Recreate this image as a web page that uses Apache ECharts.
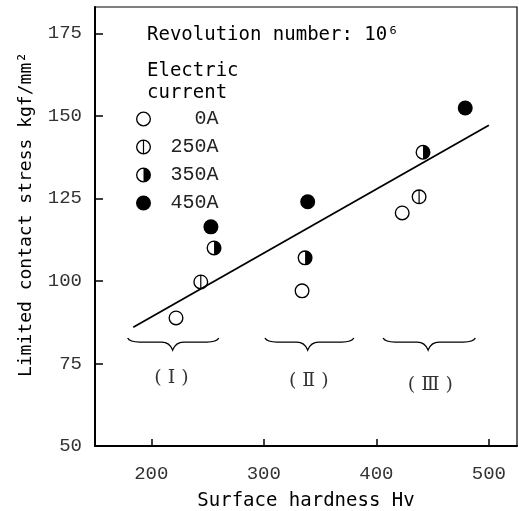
<!DOCTYPE html>
<html>
<head>
<meta charset="utf-8">
<script src="https://cdn.jsdelivr.net/npm/echarts@6/dist/echarts.min.js"></script>
<style>
  html, body { margin: 0; background: #fff; }
  #chart { width: 519px; height: 511px; }
</style>
</head>
<body>
<div id="chart"></div>
<script>
// electric current groups
var currents = ['0A', '250A', '350A', '450A'];

// surface hardness (Hv) / limited contact stress (kgf/mm2) per current
var hard0 = [222, 334, 423];
var stress0 = [88.8, 97, 120.6];
var hard250 = [244, 438];
var stress250 = [99.7, 125.5];
var hard350 = [255.8, 336.7, 441.5];
var stress350 = [110, 107, 139];
var hard450 = [253, 339, 479];
var stress450 = [116.4, 124, 152.4];

// fitted line end points
var fitHard = [184, 500];
var fitStress = [86, 147.2];

// hardness groups (braces + labels)
var groupNames = ['( Ⅰ )', '( Ⅱ )', '( Ⅲ )'];
var braceFrom = [179, 301, 406];
var braceTip = [219, 339, 446];
var braceTo = [260, 380, 488];
var braceLevel = [81.5, 81.5, 81.5];
var groupLabelX = [218, 340, 448];
var groupLabelY = [70.5, 69.8, 68.6];

var xTicks = [200, 300, 400, 500];
var yTicks = [50, 75, 100, 125, 150, 175];

var ring = 'M10,0A10,10,0,1,1,10,20A10,10,0,1,1,10,0ZM10,1.8A8.2,8.2,0,1,0,10,18.2A8.2,8.2,0,1,0,10,1.8Z';
var symbols = [
  'path://' + ring,
  'path://' + ring + 'M9.2,1L10.8,1L10.8,19L9.2,19Z',
  'path://' + ring + 'M10,0A10,10,0,0,1,10,20Z',
  'circle'
];
var hardList = [hard0, hard250, hard350, hard450];
var stressList = [stress0, stress250, stress350, stress450];

function pairs(xs, ys) {
  return xs.map(function (x, i) { return [x, ys[i]]; });
}

var chart = echarts.init(document.getElementById('chart'));

var series = currents.map(function (name, k) {
  return {
    name: name,
    type: 'scatter',
    symbol: symbols[k],
    symbolSize: 15,
    itemStyle: { color: '#000', opacity: 1 },
    data: pairs(hardList[k], stressList[k]),
    z: 5
  };
});

series.push({
  type: 'line',
  data: pairs(fitHard, fitStress),
  symbol: 'none',
  silent: true,
  lineStyle: { color: '#000', width: 1.8 }
});

// curly braces under each hardness group
series.push({
  type: 'custom',
  silent: true,
  data: braceFrom.map(function (f, i) { return [f, braceTip[i], braceTo[i], braceLevel[i]]; }),
  renderItem: function (params, api) {
    var a = api.coord([api.value(0), api.value(3)]);
    var t = api.coord([api.value(1), api.value(3)]);
    var b = api.coord([api.value(2), api.value(3)]);
    var y = a[1];
    var d = 'M' + a[0] + ',' + (y - 4) +
      'Q' + (a[0] + 2) + ',' + y + ',' + (a[0] + 12) + ',' + y +
      'L' + (t[0] - 11) + ',' + y +
      'Q' + (t[0] - 3) + ',' + y + ',' + t[0] + ',' + (y + 8) +
      'Q' + (t[0] + 3) + ',' + y + ',' + (t[0] + 11) + ',' + y +
      'L' + (b[0] - 12) + ',' + y +
      'Q' + (b[0] - 2) + ',' + y + ',' + b[0] + ',' + (y - 4);
    return {
      type: 'path',
      shape: { pathData: d },
      style: { fill: null, stroke: '#000', lineWidth: 1.3 }
    };
  }
});

series.push({
  type: 'scatter',
  silent: true,
  symbolSize: 0,
  data: groupLabelX.map(function (x, i) { return [x, groupLabelY[i], groupNames[i]]; }),
  label: {
    show: true,
    position: 'inside',
    formatter: function (p) { return p.value[2]; },
    fontFamily: '"DejaVu Serif", "Noto Sans CJK JP"',
    fontSize: 19,
    color: '#000'
  }
});

var tickFont = { fontFamily: '"Liberation Mono"', fontSize: 19, color: '#333' };

chart.setOption({
  animation: false,
  textStyle: { fontFamily: '"DejaVu Sans Mono"' },
  grid: {
    left: 95, right: 2, top: 7, bottom: 65,
    outerBoundsMode: 'none',
    show: true, borderColor: '#000', borderWidth: 1.2
  },
  legend: {
    data: currents,
    orient: 'vertical',
    left: 131,
    top: 104,
    itemWidth: 44,
    itemHeight: 15,
    itemGap: 8,
    selectedMode: false,
    formatter: function (n) { return ('    ' + n).slice(-4); },
    textStyle: { fontFamily: '"Liberation Mono"', fontSize: 20, color: '#222' }
  },
  graphic: [
    { type: 'text', x: 147, y: 35, style: { text: 'Revolution number: 10⁶', font: '19px "DejaVu Sans Mono"', fill: '#000', verticalAlign: 'middle' } },
    { type: 'text', x: 147, y: 71, style: { text: 'Electric', font: '19px "DejaVu Sans Mono"', fill: '#000', verticalAlign: 'middle' } },
    { type: 'text', x: 147, y: 93, style: { text: 'current', font: '19px "DejaVu Sans Mono"', fill: '#000', verticalAlign: 'middle' } }
  ],
  xAxis: {
    type: 'value',
    min: 150,
    max: 525,
    name: 'Surface hardness Hv',
    nameLocation: 'middle',
    nameGap: 46,
    nameTextStyle: { fontFamily: '"DejaVu Sans Mono"', fontSize: 19, color: '#000' },
    axisLine: { lineStyle: { color: '#000', width: 2 } },
    axisTick: { inside: true, length: 7, customValues: xTicks, lineStyle: { color: '#000', width: 1.5 } },
    axisLabel: Object.assign({ customValues: xTicks, margin: 18 }, tickFont),
    splitLine: { show: false }
  },
  yAxis: {
    type: 'value',
    min: 50,
    max: 183,
    name: 'Limited contact stress kgf/mm²',
    nameLocation: 'middle',
    nameGap: 60,
    nameTextStyle: { fontFamily: '"DejaVu Sans Mono"', fontSize: 18, color: '#000', padding: [0, 0, 0, 24] },
    axisLine: { lineStyle: { color: '#000', width: 2 } },
    axisTick: { inside: true, length: 8, customValues: yTicks, lineStyle: { color: '#000', width: 1.5 } },
    axisLabel: Object.assign({ customValues: yTicks, margin: 13 }, tickFont),
    splitLine: { show: false }
  },
  series: series
});
</script>
</body>
</html>
